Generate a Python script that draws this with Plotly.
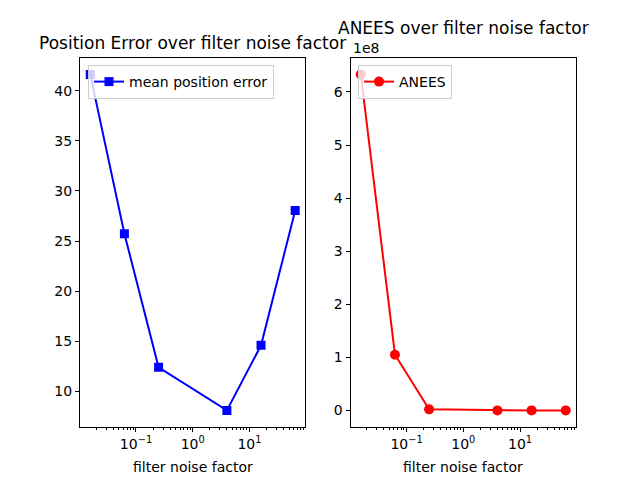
import math
import plotly.graph_objects as go

noise_factor = [1/64, 1/16, 1/4, 4, 16, 64]
mean_pos_error = [41.65, 25.73, 12.37, 8.07, 14.57, 28.05]
anees = [6.33e8, 1.05e8, 2.0e6, 3.0e4, 1.5e4, 8.0e3]
x_tickvals = [0.1, 1, 10]
x_ticktext = ["10<sup>−1</sup>", "10<sup>0</sup>", "10<sup>1</sup>"]
left_yticks = [10, 15, 20, 25, 30, 35, 40]
right_yticks = [0, 1e8, 2e8, 3e8, 4e8, 5e8, 6e8]
right_yticktext = ["0", "1", "2", "3", "4", "5", "6"]

W, H = 640, 480
FONT = "DejaVu Sans"
fig = go.Figure()

fig.add_trace(go.Scatter(x=noise_factor, y=mean_pos_error, mode="lines+markers",
                         name="mean position error", xaxis="x", yaxis="y",
                         line=dict(color="#0000ff", width=2),
                         marker=dict(symbol="square", size=9, color="#0000ff"),
                         legend="legend"))
fig.add_trace(go.Scatter(x=noise_factor, y=anees, mode="lines+markers",
                         name="ANEES", xaxis="x2", yaxis="y2",
                         line=dict(color="#ff0000", width=2),
                         marker=dict(symbol="circle", size=10, color="#ff0000"),
                         legend="legend2"))

lo = math.log10(min(noise_factor)); hi = math.log10(max(noise_factor))
pad = (hi - lo) * 0.05
xr = [lo - pad, hi + pad]

def yr(vals):
    a, b = min(vals), max(vals)
    p = (b - a) * 0.05
    return [a - p, b + p]

axis_common = dict(showline=True, linecolor="black", linewidth=1, mirror=True,
                   ticks="outside", ticklen=4, tickcolor="black", showgrid=False,
                   zeroline=False, tickfont=dict(family=FONT, size=14, color="black"))

xa = dict(type="log", range=xr, tickvals=x_tickvals, ticktext=x_ticktext,
          minor=dict(ticks="outside", ticklen=2, tickcolor="black", dtick="D1", showgrid=False),
          **axis_common)

d1 = [80/W, 305.45/W]
d2 = [350.55/W, 576/W]
ydom = [0.11, 0.88]

fig.update_layout(
    width=W, height=H, margin=dict(l=0, r=0, t=0, b=0),
    paper_bgcolor="white", plot_bgcolor="white",
    xaxis=dict(domain=d1, anchor="y", **xa),
    yaxis=dict(domain=ydom, anchor="x", range=yr(mean_pos_error), tickvals=left_yticks, **axis_common),
    xaxis2=dict(domain=d2, anchor="y2", **xa),
    yaxis2=dict(domain=ydom, anchor="x2", range=yr(anees), tickvals=right_yticks,
                ticktext=right_yticktext, **axis_common),
    legend=dict(x=88/W, y=1-65/H, xanchor="left", yanchor="top",
                bgcolor="rgba(255,255,255,0.8)", bordercolor="#cccccc", borderwidth=1,
                font=dict(family=FONT, size=14, color="black"), itemwidth=30),
    legend2=dict(x=358/W, y=1-65/H, xanchor="left", yanchor="top",
                 bgcolor="rgba(255,255,255,0.8)", bordercolor="#cccccc", borderwidth=1,
                 font=dict(family=FONT, size=14, color="black"), itemwidth=30),
    showlegend=True,
)

ann = [
    dict(text="Position Error over filter noise factor", x=(d1[0]+d1[1])/2, y=1-43/H, size=17),
    dict(text="ANEES over filter noise factor", x=(d2[0]+d2[1])/2, y=1-28/H, size=17),
    dict(text="filter noise factor", x=(d1[0]+d1[1])/2, y=1-467/H, size=14),
    dict(text="filter noise factor", x=(d2[0]+d2[1])/2, y=1-467/H, size=14),
]
for a in ann:
    fig.add_annotation(text=a["text"], x=a["x"], y=a["y"], xref="paper", yref="paper",
                       xanchor="center", yanchor="middle", showarrow=False,
                       font=dict(family=FONT, size=a["size"], color="black"))
fig.add_annotation(text="1e8", x=351/W, y=1-48/H, xref="paper", yref="paper",
                   xanchor="left", yanchor="middle", showarrow=False,
                   font=dict(family=FONT, size=14, color="black"))

fig.write_html("out.html", config={"displayModeBar": False},
               post_script="document.body.style.margin='0';")
